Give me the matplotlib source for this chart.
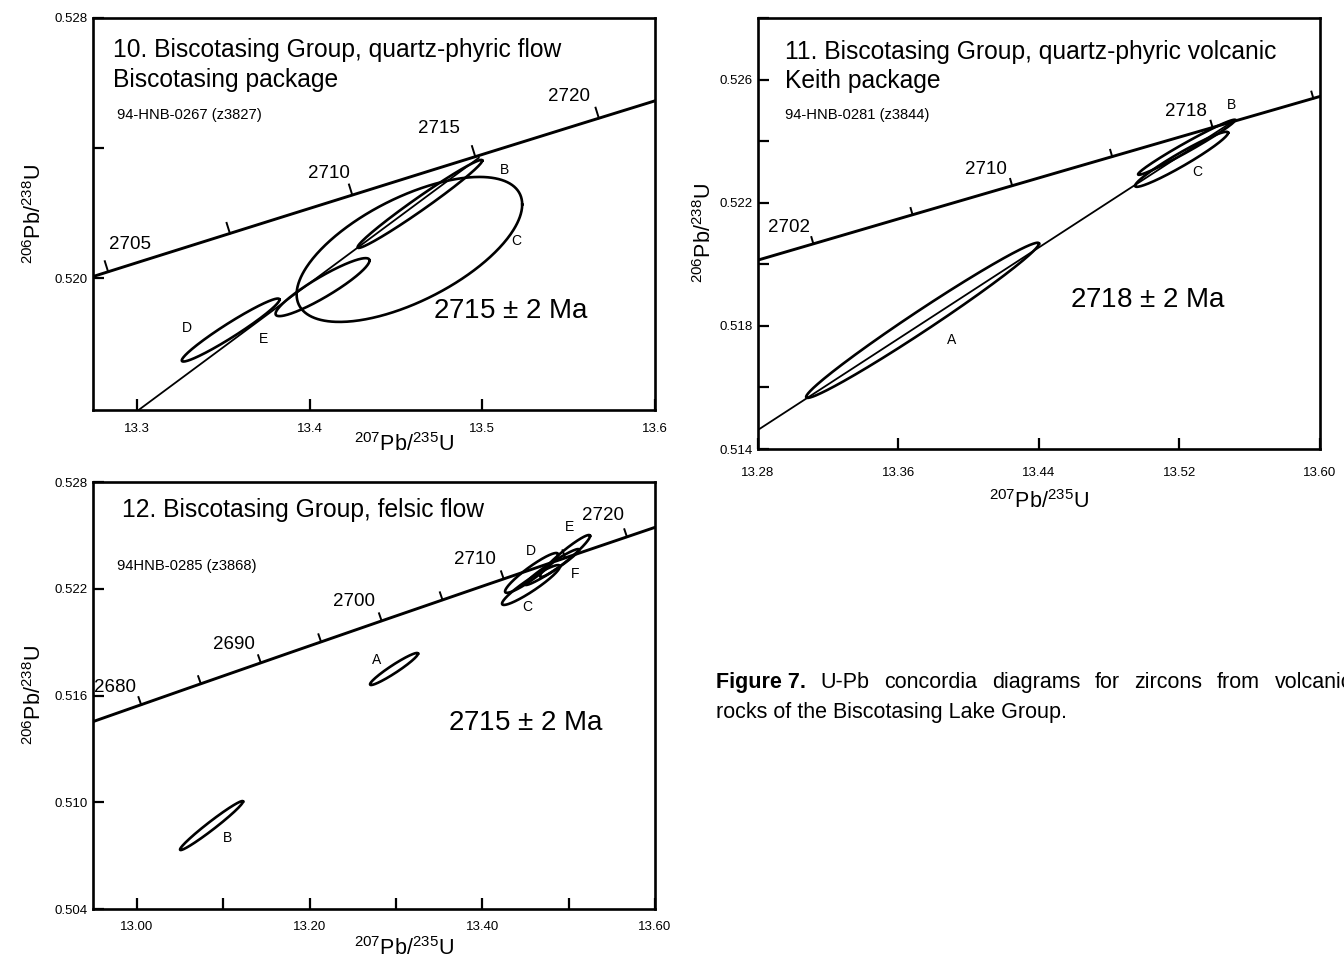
import numpy as np
import matplotlib
matplotlib.use("Agg")
import matplotlib.pyplot as plt

plt.rcParams['font.family'] = ['Liberation Sans', 'DejaVu Sans']
plt.rcParams['mathtext.fontset'] = 'custom'
plt.rcParams['mathtext.rm'] = 'Liberation Sans'
plt.rcParams['mathtext.it'] = 'Liberation Sans'
plt.rcParams['mathtext.bf'] = 'Liberation Sans:bold'

# ---------------- data ----------------
# decay constants (1/yr)
L238 = 1.55125e-10
L235 = 9.8485e-10

# Panel 10
p10_names = ['B', 'C', 'D', 'E']
p10_x = [13.4639, 13.4578, 13.3543, 13.4075]
p10_y = [0.52228, 0.52088, 0.51840, 0.51972]
p10_sx = [0.0361, 0.0653, 0.0283, 0.0272]
p10_sy = [0.001354, 0.00223, 0.000969, 0.000892]
p10_rho = [0.984, 0.62, 0.965, 0.917]
p10_tick_ages = [2700, 2705, 2710, 2715, 2720]
p10_label_ages = [2700, 2710, 2715, 2720]
p10_label_text = ['2705', '2710', '2715', '2720']
p10_disc_x = [13.300, 13.498]
p10_disc_y = [0.5159, 0.5237]
p10_xticks = [13.3, 13.4, 13.5, 13.6]
p10_xticklabels = ['13.3', '13.4', '13.5', '13.6']
p10_yticks = [0.520, 0.524, 0.528]
p10_yticklabels = ['0.520', '', '0.528']

# Panel 11
p11_names = ['A', 'B', 'C']
p11_x = [13.3737, 13.5240, 13.5212]
p11_y = [0.51818, 0.52380, 0.52341]
p11_sx = [0.0663, 0.0276, 0.0265]
p11_sy = [0.00252, 0.000894, 0.000894]
p11_rho = [0.9876, 0.9825, 0.962]
p11_tick_ages = [2702, 2706, 2710, 2714, 2718, 2722]
p11_label_ages = [2702, 2710, 2718]
p11_label_text = ['2702', '2710', '2718']
p11_disc_x = [13.280, 13.552]
p11_disc_y = [0.51462, 0.5247]
p11_xticks = [13.28, 13.36, 13.44, 13.52, 13.60]
p11_xticklabels = ['13.28', '13.36', '13.44', '13.52', '13.60']
p11_yticks = [0.514, 0.516, 0.518, 0.520, 0.522, 0.524, 0.526, 0.528]
p11_yticklabels = ['0.514', '', '0.518', '', '0.522', '', '0.526', '']

# Panel 12
p12_names = ['A', 'B', 'C', 'D', 'E', 'F']
p12_x = [13.2977, 13.0863, 13.4564, 13.4570, 13.4958, 13.4807]
p12_y = [0.51749, 0.50869, 0.52221, 0.52289, 0.52384, 0.52322]
p12_sx = [0.0278, 0.0365, 0.0336, 0.0307, 0.0290, 0.0313]
p12_sy = [0.00090, 0.001377, 0.00112, 0.00112, 0.00118, 0.00101]
p12_rho = [0.955, 0.9786, 0.933, 0.929, 0.952, 0.964]
p12_tick_ages = [2680, 2685, 2690, 2695, 2700, 2705, 2710, 2715, 2720]
p12_label_ages = [2680, 2690, 2700, 2710, 2720]
p12_label_text = ['2680', '2690', '2700', '2710', '2720']
p12_xticks = [13.0, 13.1, 13.2, 13.3, 13.4, 13.5, 13.6]
p12_xticklabels = ['13.00', '', '13.20', '', '13.40', '', '13.60']
p12_yticks = [0.504, 0.510, 0.516, 0.522, 0.528]
p12_yticklabels = ['0.504', '0.510', '0.516', '0.522', '0.528']

# ---------------- helpers ----------------
W, H = 1344, 964
fig = plt.figure(figsize=(W / 100, H / 100), dpi=100)

TITLE_FS = 17.7
ID_FS = 10.6
AGE_FS = 20
CLAB_FS = 13.5
LET_FS = 10
AXLAB_FS = 15.5
TICK_FS = 9.5


def axes_px(left, top, right, bottom):
    return fig.add_axes([left / W, (H - bottom) / H, (right - left) / W, (bottom - top) / H])


def concordia(age_ma):
    t = np.asarray(age_ma, dtype=float) * 1e6
    return np.exp(L235 * t) - 1, np.exp(L238 * t) - 1


def draw_ellipse(ax, cx, cy, sx, sy, rho, lw=1.9):
    th = np.linspace(0, 2 * np.pi, 400)
    ex = cx + sx * np.cos(th)
    ey = cy + sy * (rho * np.cos(th) + np.sqrt(1 - rho ** 2) * np.sin(th))
    ax.plot(ex, ey, color='black', lw=lw, solid_joinstyle='round')


def draw_concordia(ax, tick_ages, label_ages, label_text, offsets, tick_len=9):
    ages = np.linspace(2550, 2800, 800)
    cx, cy = concordia(ages)
    ax.plot(cx, cy, color='black', lw=2.1)
    trans = ax.transData
    inv = trans.inverted()
    for a in tick_ages:
        p0 = np.array(trans.transform(concordia(a)))
        p1 = np.array(trans.transform(concordia(a + 0.1)))
        tv = (p1 - p0) / np.hypot(*(p1 - p0))
        nv = np.array([-tv[1], tv[0]])
        q = inv.transform([p0, p0 + nv * tick_len])
        ax.plot(q[:, 0], q[:, 1], color='black', lw=1.4)
    for a, s, off in zip(label_ages, label_text, offsets):
        ax.annotate(s, xy=concordia(a), xytext=off, textcoords='offset pixels',
                    ha='center', va='center', fontsize=CLAB_FS)


def style_axes(ax, xlim, ylim, xt, xtl, yt, ytl, xpad, ypad, tlen=8):
    ax.set_xlim(*xlim)
    ax.set_ylim(*ylim)
    ax.set_xticks(xt)
    ax.set_xticklabels(xtl)
    ax.set_yticks(yt)
    ax.set_yticklabels(ytl)
    ax.tick_params(direction='in', length=tlen, width=1.6, labelsize=TICK_FS)
    ax.tick_params(axis='x', pad=xpad)
    ax.tick_params(axis='y', pad=ypad)
    for sp in ax.spines.values():
        sp.set_linewidth(1.9)


XLAB = '$^{207}$Pb/$^{235}$U'
YLAB = '$^{206}$Pb/$^{238}$U'

# ---------------- panel 10 ----------------
ax1 = axes_px(93, 18, 655, 410)
style_axes(ax1, (13.2746, 13.6), (0.51594, 0.528), p10_xticks, p10_xticklabels,
           p10_yticks, p10_yticklabels, xpad=9, ypad=4)
ax1.plot(p10_disc_x, p10_disc_y, color='black', lw=1.3)
for i in range(len(p10_names)):
    draw_ellipse(ax1, p10_x[i], p10_y[i], p10_sx[i], p10_sy[i], p10_rho[i])
draw_concordia(ax1, p10_tick_ages, p10_label_ages, p10_label_text,
               [(22, 27), (-23, 22), (-36, 28), (-30, 22)], tick_len=11)
p10_letter_pos = [(13.5127, 0.52332), (13.5197, 0.52114), (13.3289, 0.51846), (13.3734, 0.51812)]
for n, (lx, ly) in zip(p10_names, p10_letter_pos):
    ax1.text(lx, ly, n, fontsize=LET_FS, ha='center', va='center')
ax1.text(0.0356, 0.918, '10. Biscotasing Group, quartz-phyric flow', transform=ax1.transAxes,
         fontsize=TITLE_FS, va='center', ha='left')
ax1.text(0.0356, 0.842, 'Biscotasing package', transform=ax1.transAxes,
         fontsize=TITLE_FS, va='center', ha='left')
ax1.text(0.0427, 0.753, '94-HNB-0267 (z3827)', transform=ax1.transAxes,
         fontsize=ID_FS, va='center', ha='left')
ax1.text(0.605, 0.2526, '2715 $\\pm$ 2 Ma', transform=ax1.transAxes,
         fontsize=AGE_FS, va='center', ha='left')
ax1.set_xlabel(XLAB, fontsize=AXLAB_FS, labelpad=0)
ax1.xaxis.set_label_coords(0.553, -0.058)
ax1.set_ylabel(YLAB, fontsize=AXLAB_FS, labelpad=6)

# ---------------- panel 11 ----------------
ax2 = axes_px(758, 18, 1320, 449)
style_axes(ax2, (13.28, 13.60), (0.514, 0.528), p11_xticks, p11_xticklabels,
           p11_yticks, p11_yticklabels, xpad=13, ypad=4)
ax2.plot(p11_disc_x, p11_disc_y, color='black', lw=1.3)
for i in range(len(p11_names)):
    draw_ellipse(ax2, p11_x[i], p11_y[i], p11_sx[i], p11_sy[i], p11_rho[i])
draw_concordia(ax2, p11_tick_ages, p11_label_ages, p11_label_text,
               [(-24, 16), (-26, 16), (-27, 16)], tick_len=7)
p11_letter_pos = [(13.3905, 0.51754), (13.5494, 0.52519), (13.5300, 0.52301)]
for n, (lx, ly) in zip(p11_names, p11_letter_pos):
    ax2.text(lx, ly, n, fontsize=LET_FS, ha='center', va='center')
ax2.text(0.048, 0.921, '11. Biscotasing Group, quartz-phyric volcanic', transform=ax2.transAxes,
         fontsize=TITLE_FS, va='center', ha='left')
ax2.text(0.048, 0.854, 'Keith package', transform=ax2.transAxes,
         fontsize=TITLE_FS, va='center', ha='left')
ax2.text(0.048, 0.775, '94-HNB-0281 (z3844)', transform=ax2.transAxes,
         fontsize=ID_FS, va='center', ha='left')
ax2.text(0.555, 0.3457, '2718 $\\pm$ 2 Ma', transform=ax2.transAxes,
         fontsize=AGE_FS, va='center', ha='left')
ax2.set_xlabel(XLAB, fontsize=AXLAB_FS, labelpad=0)
ax2.xaxis.set_label_coords(0.5, -0.095)
ax2.set_ylabel(YLAB, fontsize=AXLAB_FS, labelpad=2)

# ---------------- panel 12 ----------------
ax3 = axes_px(93, 482, 655, 909)
style_axes(ax3, (12.949, 13.60), (0.504, 0.528), p12_xticks, p12_xticklabels,
           p12_yticks, p12_yticklabels, xpad=9, ypad=4)
for i in range(len(p12_names)):
    draw_ellipse(ax3, p12_x[i], p12_y[i], p12_sx[i], p12_sy[i], p12_rho[i])
draw_concordia(ax3, p12_tick_ages, p12_label_ages, p12_label_text,
               [(-26, 17), (-27, 18), (-28, 19), (-29, 19), (-24, 21)], tick_len=8)
p12_letter_pos = [(13.278, 0.5180), (13.1043, 0.50799), (13.4518, 0.52097),
                  (13.4564, 0.52412), (13.5004, 0.52547), (13.5074, 0.52283)]
for n, (lx, ly) in zip(p12_names, p12_letter_pos):
    ax3.text(lx, ly, n, fontsize=LET_FS, ha='center', va='center')
ax3.text(0.0516, 0.934, '12. Biscotasing Group, felsic flow', transform=ax3.transAxes,
         fontsize=TITLE_FS, va='center', ha='left')
ax3.text(0.0427, 0.803, '94HNB-0285 (z3868)', transform=ax3.transAxes,
         fontsize=ID_FS, va='center', ha='left')
ax3.text(0.632, 0.4356, '2715 $\\pm$ 2 Ma', transform=ax3.transAxes,
         fontsize=AGE_FS, va='center', ha='left')
ax3.set_xlabel(XLAB, fontsize=AXLAB_FS, labelpad=0)
ax3.xaxis.set_label_coords(0.553, -0.065)
ax3.set_ylabel(YLAB, fontsize=AXLAB_FS, labelpad=6)

# ---------------- caption (justified first line) ----------------
CAP_FS = 15.5
cap_words = ['U-Pb', 'concordia', 'diagrams', 'for', 'zircons', 'from', 'volcanic']
renderer = fig.canvas.get_renderer()
cap_y1 = 1 - 688 / H
cap_y2 = 1 - 718 / H
t0 = fig.text(716 / W, cap_y1, 'Figure 7.', fontsize=CAP_FS, fontweight='bold',
              va='baseline', ha='left')
items = [t0] + [fig.text(0, cap_y1, w, fontsize=CAP_FS, va='baseline', ha='left')
                for w in cap_words]
widths = [it.get_window_extent(renderer).width for it in items]
x_start, x_end = 716, 1352
gap = (x_end - x_start - sum(widths)) / (len(items) - 1)
xpos = x_start
for it, wd in zip(items, widths):
    it.set_x(xpos / W)
    xpos += wd + gap
fig.text(716 / W, cap_y2, 'rocks of the Biscotasing Lake Group.', fontsize=CAP_FS,
         va='baseline', ha='left')

fig.savefig('out.png', dpi=100)
